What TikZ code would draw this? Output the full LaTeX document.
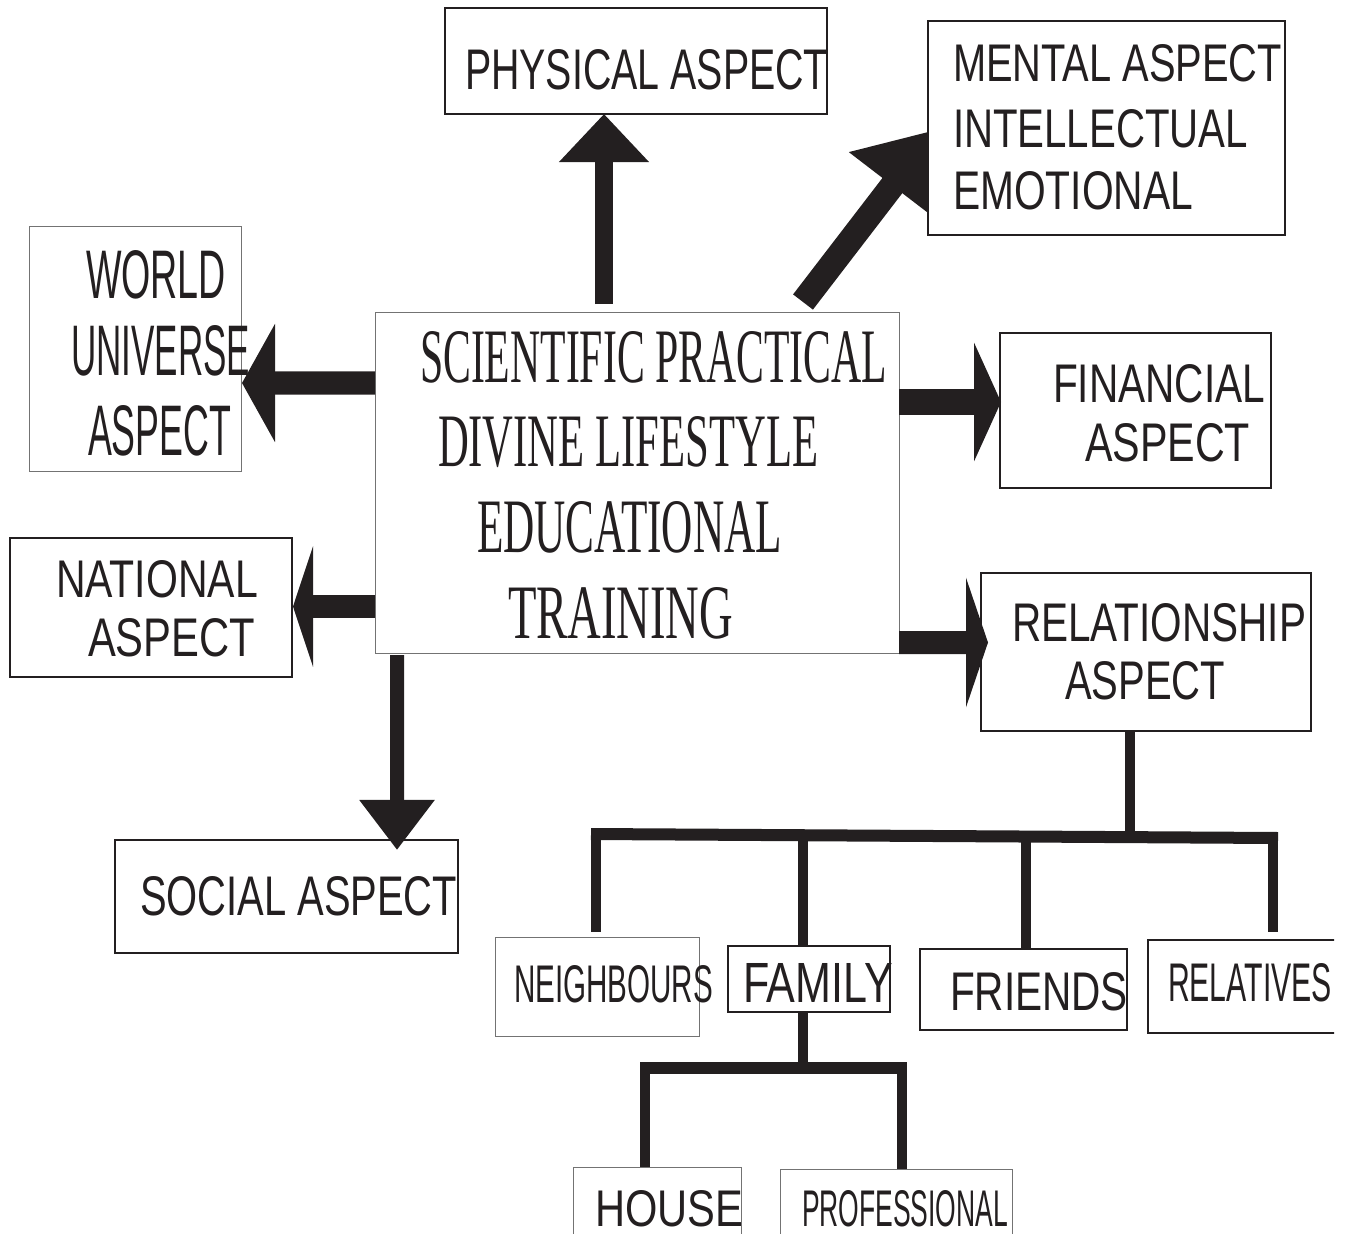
\documentclass[tikz,border=0pt]{standalone}
\usepackage{fontspec}
\setmainfont{Liberation Serif}
\setsansfont{Liberation Sans}
\usetikzlibrary{arrows.meta,calc}
\definecolor{ink}{RGB}{35,31,32}
\newlength\pxu
\setlength\pxu{0.025cm}
% squeeze a text line into a given width and height (in px)
\newcommand\sq[3]{\resizebox{#1\pxu}{#2\pxu}{#3}}

\tikzset{
  box/.style={rectangle, inner sep=0pt, outer sep=0pt, fill=white},
  thickbox/.style={box, draw=ink, line width=1.7pt},
  thinbox/.style={box, draw=black!55, line width=0.7pt},
  boxsize/.style 2 args={minimum width=#1\pxu, minimum height=#2\pxu},
  lbl/.style={anchor=north west, inner sep=0pt, outer sep=0pt, text=ink},
  sanslbl/.style={lbl, font=\sffamily},
  bigarrow/.style n args={3}{draw=ink, line width=#1, -{Triangle[length=#2,width=#3]}},
  treeline/.style={draw=ink, line width=0.25cm},
  treebar/.style={draw=ink, line width=0.3cm},
}

\begin{document}
\begin{tikzpicture}[x=0.025cm, y=-0.025cm]
\useasboundingbox (0,0) rectangle (1354,1235);
\clip (0,0) rectangle (1334,1233);
\coordinate (bl) at (0,1235);

% boxes
\node[thickbox, boxsize={382}{106}] (phys) at (636,61) {};
\node[thickbox, boxsize={357}{214}] (mental) at (1106.5,128) {};
\node[thinbox, boxsize={212}{245}] (world) at (135,348.5) {};
\node[thinbox, boxsize={524}{341}] (center) at (637,482.5) {};
\node[thickbox, boxsize={271}{155}] (fin) at (1135.5,410.5) {};
\node[thickbox, boxsize={282}{139}] (nat) at (151,607.5) {};
\node[thickbox, boxsize={330}{158}] (rel) at (1146,652) {};
\node[thickbox, boxsize={343}{113}] (social) at (286.5,896.5) {};
\node[thinbox, boxsize={204}{99}] (nb) at (597,986.5) {};
\node[thickbox, boxsize={162}{66}] (fam) at (809,979) {};
\node[thickbox, boxsize={207}{81}] (fr) at (1023.5,989.5) {};
\node[thickbox, boxsize={197}{93}] (rv) at (1246.5,986.5) {};
\node[thinbox, boxsize={168}{83}] (house) at (657,1208.5) {};
\node[thinbox, boxsize={232}{81}] (prof) at (896,1209.5) {};

% texts
\node[sanslbl] (physT) at (465,50) {\sq{363}{40}{PHYSICAL ASPECT}};
\node[sanslbl] (mentalA) at (953,45) {\sq{329}{37}{MENTAL ASPECT}};
\node[sanslbl] (mentalB) at (953,110) {\sq{295}{38}{INTELLECTUAL}};
\node[sanslbl] (mentalC) at (953,172) {\sq{240}{38}{EMOTIONAL}};
\node[sanslbl] (worldA) at (86,250) {\sq{140}{48}{WORLD}};
\node[sanslbl] (worldB) at (71,325) {\sq{179}{50}{UNIVERSE}};
\node[sanslbl] (worldC) at (88,405) {\sq{143}{50}{ASPECT}};
\node[lbl] (centerA) at (420,331) {\sq{467}{51}{SCIENTIFIC PRACTICAL}};
\node[lbl] (centerB) at (438,416) {\sq{380}{50}{DIVINE LIFESTYLE}};
\node[lbl] (centerC) at (477,501) {\sq{305}{51}{EDUCATIONAL}};
\node[lbl] (centerD) at (508,587) {\sq{225}{51}{TRAINING}};
\node[sanslbl] (finA) at (1053,364) {\sq{212}{38}{FINANCIAL}};
\node[sanslbl] (finB) at (1085,423) {\sq{165}{38}{ASPECT}};
\node[sanslbl] (natA) at (56,560) {\sq{202}{37}{NATIONAL}};
\node[sanslbl] (natB) at (88,618) {\sq{167}{38}{ASPECT}};
\node[sanslbl] (relA) at (1012,603) {\sq{294}{38}{RELATIONSHIP}};
\node[sanslbl] (relB) at (1065,661) {\sq{160}{38}{ASPECT}};
\node[sanslbl] (socialT) at (140,876) {\sq{317}{39}{SOCIAL ASPECT}};
\node[sanslbl] (nbT) at (514,965) {\sq{199}{37}{NEIGHBOURS}};
\node[sanslbl] (famT) at (743,963) {\sq{150}{39}{FAMILY}};
\node[sanslbl] (frT) at (950,972) {\sq{178}{38}{FRIENDS}};
\node[sanslbl] (rvT) at (1168,963) {\sq{164}{38}{RELATIVES}};
\node[sanslbl] (houseT) at (595,1190) {\sq{148}{36}{HOUSE}};
\node[sanslbl] (profT) at (802,1190) {\sq{206}{36}{PROFESSIONAL}};

% arrows out of the centre box
\draw[bigarrow={0.45cm}{1.2cm}{2.175cm}] ($(center.north)+(-33,-8)$) -- ($(phys.south)+(-32,0)$);
\begin{scope}
\clip (0,0) rectangle (mental.west |- bl);
\draw[bigarrow={0.625cm}{1.75cm}{2.625cm}] ($(center.north)+(166,-10)$) -- ($(mental.west)+(7,2)$);
\end{scope}
\draw[bigarrow={0.575cm}{0.825cm}{2.925cm}] ($(center.west)+(0,-99.5)$) -- ($(world.east)+(1,34.5)$);
\draw[bigarrow={0.625cm}{0.675cm}{2.95cm}] ($(center.east)+(0,-80.5)$) -- ($(fin.west)+(1,-8.5)$);
\draw[bigarrow={0.575cm}{0.5cm}{3cm}] ($(center.west)+(0,124)$) -- ($(nat.east)+(1,-1)$);
\draw[bigarrow={0.575cm}{0.55cm}{3.225cm}] ($(center.east)+(0,160)$) -- ($(rel.west)+(7,-9.5)$);
\draw[bigarrow={0.35cm}{1.25cm}{1.8cm}] ($(center.south)+(-240,2)$) -- ($(social.north)+(110.5,10)$);

% relationship tree
\coordinate (t0) at (1130,836);
\coordinate (barl) at (591,834);
\coordinate (barr) at (1278,838);
\draw[treeline] (rel.south -| t0) -- (t0);
\draw[treebar] (barl) -- (barr);
\foreach \x/\n/\g in {596/nb/5, 803/fam/0, 1026/fr/0, 1273/rv/8}
  \draw[treeline, shorten >=\g\pxu] (\x,836) -- (\x,836 |- \n.north);

% family tree
\coordinate (t1) at (803,1068);
\coordinate (fbarl) at (640,1068);
\coordinate (fbarr) at (907,1068);
\draw[treeline] (fam.south -| t1) -- (t1);
\draw[treebar] (fbarl) -- (fbarr);
\foreach \x/\n in {645/house, 902/prof}
  \draw[treeline] (\x,1068) -- (\x,1068 |- \n.north);
\end{tikzpicture}
\end{document}
